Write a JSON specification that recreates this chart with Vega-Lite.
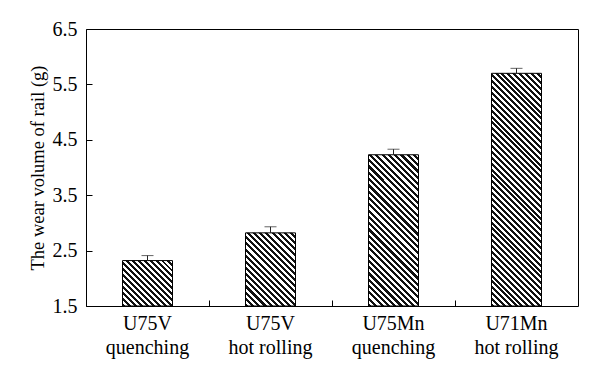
{
  "$schema": "https://vega.github.io/schema/vega-lite/v6.json",
  "width": 492,
  "height": 277,
  "autosize": "none",
  "padding": {"left": 86, "top": 29, "right": 22, "bottom": 78},
  "background": "#ffffff",
  "config": {"view": {"stroke": "#000000", "strokeWidth": 1}, "font": "Liberation Serif"},
  "data": {"values": [
    {"cat": "U75V quenching", "wear": 2.32, "hi": 2.41},
    {"cat": "U75V hot rolling", "wear": 2.82, "hi": 2.93},
    {"cat": "U75Mn quenching", "wear": 4.23, "hi": 4.33},
    {"cat": "U71Mn hot rolling", "wear": 5.70, "hi": 5.79}
  ]},
  "resolve": {"axis": {"x": "independent"}},
  "layer": [
    {
      "mark": {"type": "bar", "width": 50, "stroke": "#000000", "strokeWidth": 1},
      "encoding": {
        "x": {"field": "cat", "type": "nominal", "sort": null, "scale": {"paddingInner": 0, "paddingOuter": 0},
              "axis": {"orient": "bottom", "bandPosition": 0, "labels": false, "tickSize": -6, "tickColor": "#000000", "domain": false, "title": null}},
        "y": {"field": "wear", "type": "quantitative", "scale": {"domain": [1.5, 6.5], "zero": false, "nice": false},
              "axis": {"values": [1.5, 2.5, 3.5, 4.5, 5.5, 6.5], "format": ".1f", "tickSize": -6, "tickColor": "#000000", "domain": false, "grid": false,
                       "labelFontSize": 20, "labelColor": "#000000", "labelPadding": 15, "title": "The wear volume of rail (g)",
                       "titleFontSize": 18.5, "titleFontWeight": "normal", "titleColor": "#000000", "titlePadding": 5}},
        "y2": {"datum": 1.5},
        "fill": {
          "condition": [
            {"test": "datum.cat === 'U75V quenching'", "value": {"gradient": "linear", "x1": 0, "y1": 1, "x2": 1.0455, "y2": 0.05, "stops": [
              {"offset":0,"color":"#111"},
              {"offset":0.03125,"color":"#111"},{"offset":0.03125,"color":"#fff"},
              {"offset":0.0625,"color":"#fff"},{"offset":0.0625,"color":"#111"},
              {"offset":0.09375,"color":"#111"},{"offset":0.09375,"color":"#fff"},
              {"offset":0.125,"color":"#fff"},{"offset":0.125,"color":"#111"},
              {"offset":0.15625,"color":"#111"},{"offset":0.15625,"color":"#fff"},
              {"offset":0.1875,"color":"#fff"},{"offset":0.1875,"color":"#111"},
              {"offset":0.21875,"color":"#111"},{"offset":0.21875,"color":"#fff"},
              {"offset":0.25,"color":"#fff"},{"offset":0.25,"color":"#111"},
              {"offset":0.28125,"color":"#111"},{"offset":0.28125,"color":"#fff"},
              {"offset":0.3125,"color":"#fff"},{"offset":0.3125,"color":"#111"},
              {"offset":0.34375,"color":"#111"},{"offset":0.34375,"color":"#fff"},
              {"offset":0.375,"color":"#fff"},{"offset":0.375,"color":"#111"},
              {"offset":0.40625,"color":"#111"},{"offset":0.40625,"color":"#fff"},
              {"offset":0.4375,"color":"#fff"},{"offset":0.4375,"color":"#111"},
              {"offset":0.46875,"color":"#111"},{"offset":0.46875,"color":"#fff"},
              {"offset":0.5,"color":"#fff"},{"offset":0.5,"color":"#111"},
              {"offset":0.53125,"color":"#111"},{"offset":0.53125,"color":"#fff"},
              {"offset":0.5625,"color":"#fff"},{"offset":0.5625,"color":"#111"},
              {"offset":0.59375,"color":"#111"},{"offset":0.59375,"color":"#fff"},
              {"offset":0.625,"color":"#fff"},{"offset":0.625,"color":"#111"},
              {"offset":0.65625,"color":"#111"},{"offset":0.65625,"color":"#fff"},
              {"offset":0.6875,"color":"#fff"},{"offset":0.6875,"color":"#111"},
              {"offset":0.71875,"color":"#111"},{"offset":0.71875,"color":"#fff"},
              {"offset":0.75,"color":"#fff"},{"offset":0.75,"color":"#111"},
              {"offset":0.78125,"color":"#111"},{"offset":0.78125,"color":"#fff"},
              {"offset":0.8125,"color":"#fff"},{"offset":0.8125,"color":"#111"},
              {"offset":0.84375,"color":"#111"},{"offset":0.84375,"color":"#fff"},
              {"offset":0.875,"color":"#fff"},{"offset":0.875,"color":"#111"},
              {"offset":0.90625,"color":"#111"},{"offset":0.90625,"color":"#fff"},
              {"offset":0.9375,"color":"#fff"},{"offset":0.9375,"color":"#111"},
              {"offset":0.96875,"color":"#111"},{"offset":0.96875,"color":"#fff"},
              {"offset":1,"color":"#fff"}
            ]}},
            {"test": "datum.cat === 'U75V hot rolling'", "value": {"gradient": "linear", "x1": 0, "y1": 1, "x2": 0.7845, "y2": -0.1474, "stops": [
              {"offset":0,"color":"#111"},
              {"offset":0.025,"color":"#111"},{"offset":0.025,"color":"#fff"},
              {"offset":0.05,"color":"#fff"},{"offset":0.05,"color":"#111"},
              {"offset":0.075,"color":"#111"},{"offset":0.075,"color":"#fff"},
              {"offset":0.1,"color":"#fff"},{"offset":0.1,"color":"#111"},
              {"offset":0.125,"color":"#111"},{"offset":0.125,"color":"#fff"},
              {"offset":0.15,"color":"#fff"},{"offset":0.15,"color":"#111"},
              {"offset":0.175,"color":"#111"},{"offset":0.175,"color":"#fff"},
              {"offset":0.2,"color":"#fff"},{"offset":0.2,"color":"#111"},
              {"offset":0.225,"color":"#111"},{"offset":0.225,"color":"#fff"},
              {"offset":0.25,"color":"#fff"},{"offset":0.25,"color":"#111"},
              {"offset":0.275,"color":"#111"},{"offset":0.275,"color":"#fff"},
              {"offset":0.3,"color":"#fff"},{"offset":0.3,"color":"#111"},
              {"offset":0.325,"color":"#111"},{"offset":0.325,"color":"#fff"},
              {"offset":0.35,"color":"#fff"},{"offset":0.35,"color":"#111"},
              {"offset":0.375,"color":"#111"},{"offset":0.375,"color":"#fff"},
              {"offset":0.4,"color":"#fff"},{"offset":0.4,"color":"#111"},
              {"offset":0.425,"color":"#111"},{"offset":0.425,"color":"#fff"},
              {"offset":0.45,"color":"#fff"},{"offset":0.45,"color":"#111"},
              {"offset":0.475,"color":"#111"},{"offset":0.475,"color":"#fff"},
              {"offset":0.5,"color":"#fff"},{"offset":0.5,"color":"#111"},
              {"offset":0.525,"color":"#111"},{"offset":0.525,"color":"#fff"},
              {"offset":0.55,"color":"#fff"},{"offset":0.55,"color":"#111"},
              {"offset":0.575,"color":"#111"},{"offset":0.575,"color":"#fff"},
              {"offset":0.6,"color":"#fff"},{"offset":0.6,"color":"#111"},
              {"offset":0.625,"color":"#111"},{"offset":0.625,"color":"#fff"},
              {"offset":0.65,"color":"#fff"},{"offset":0.65,"color":"#111"},
              {"offset":0.675,"color":"#111"},{"offset":0.675,"color":"#fff"},
              {"offset":0.7,"color":"#fff"},{"offset":0.7,"color":"#111"},
              {"offset":0.725,"color":"#111"},{"offset":0.725,"color":"#fff"},
              {"offset":0.75,"color":"#fff"},{"offset":0.75,"color":"#111"},
              {"offset":0.775,"color":"#111"},{"offset":0.775,"color":"#fff"},
              {"offset":0.8,"color":"#fff"},{"offset":0.8,"color":"#111"},
              {"offset":0.825,"color":"#111"},{"offset":0.825,"color":"#fff"},
              {"offset":0.85,"color":"#fff"},{"offset":0.85,"color":"#111"},
              {"offset":0.875,"color":"#111"},{"offset":0.875,"color":"#fff"},
              {"offset":0.9,"color":"#fff"},{"offset":0.9,"color":"#111"},
              {"offset":0.925,"color":"#111"},{"offset":0.925,"color":"#fff"},
              {"offset":0.95,"color":"#fff"},{"offset":0.95,"color":"#111"},
              {"offset":0.975,"color":"#111"},{"offset":0.975,"color":"#fff"},
              {"offset":1,"color":"#fff"}
            ]}},
            {"test": "datum.cat === 'U75Mn quenching'", "value": {"gradient": "linear", "x1": 0, "y1": 1, "x2": 0.3966, "y2": -0.1995, "stops": [
              {"offset":0,"color":"#111"},
              {"offset":0.015625,"color":"#111"},{"offset":0.015625,"color":"#fff"},
              {"offset":0.03125,"color":"#fff"},{"offset":0.03125,"color":"#111"},
              {"offset":0.046875,"color":"#111"},{"offset":0.046875,"color":"#fff"},
              {"offset":0.0625,"color":"#fff"},{"offset":0.0625,"color":"#111"},
              {"offset":0.078125,"color":"#111"},{"offset":0.078125,"color":"#fff"},
              {"offset":0.09375,"color":"#fff"},{"offset":0.09375,"color":"#111"},
              {"offset":0.109375,"color":"#111"},{"offset":0.109375,"color":"#fff"},
              {"offset":0.125,"color":"#fff"},{"offset":0.125,"color":"#111"},
              {"offset":0.140625,"color":"#111"},{"offset":0.140625,"color":"#fff"},
              {"offset":0.15625,"color":"#fff"},{"offset":0.15625,"color":"#111"},
              {"offset":0.171875,"color":"#111"},{"offset":0.171875,"color":"#fff"},
              {"offset":0.1875,"color":"#fff"},{"offset":0.1875,"color":"#111"},
              {"offset":0.203125,"color":"#111"},{"offset":0.203125,"color":"#fff"},
              {"offset":0.21875,"color":"#fff"},{"offset":0.21875,"color":"#111"},
              {"offset":0.234375,"color":"#111"},{"offset":0.234375,"color":"#fff"},
              {"offset":0.25,"color":"#fff"},{"offset":0.25,"color":"#111"},
              {"offset":0.265625,"color":"#111"},{"offset":0.265625,"color":"#fff"},
              {"offset":0.28125,"color":"#fff"},{"offset":0.28125,"color":"#111"},
              {"offset":0.296875,"color":"#111"},{"offset":0.296875,"color":"#fff"},
              {"offset":0.3125,"color":"#fff"},{"offset":0.3125,"color":"#111"},
              {"offset":0.328125,"color":"#111"},{"offset":0.328125,"color":"#fff"},
              {"offset":0.34375,"color":"#fff"},{"offset":0.34375,"color":"#111"},
              {"offset":0.359375,"color":"#111"},{"offset":0.359375,"color":"#fff"},
              {"offset":0.375,"color":"#fff"},{"offset":0.375,"color":"#111"},
              {"offset":0.390625,"color":"#111"},{"offset":0.390625,"color":"#fff"},
              {"offset":0.40625,"color":"#fff"},{"offset":0.40625,"color":"#111"},
              {"offset":0.421875,"color":"#111"},{"offset":0.421875,"color":"#fff"},
              {"offset":0.4375,"color":"#fff"},{"offset":0.4375,"color":"#111"},
              {"offset":0.453125,"color":"#111"},{"offset":0.453125,"color":"#fff"},
              {"offset":0.46875,"color":"#fff"},{"offset":0.46875,"color":"#111"},
              {"offset":0.484375,"color":"#111"},{"offset":0.484375,"color":"#fff"},
              {"offset":0.5,"color":"#fff"},{"offset":0.5,"color":"#111"},
              {"offset":0.515625,"color":"#111"},{"offset":0.515625,"color":"#fff"},
              {"offset":0.53125,"color":"#fff"},{"offset":0.53125,"color":"#111"},
              {"offset":0.546875,"color":"#111"},{"offset":0.546875,"color":"#fff"},
              {"offset":0.5625,"color":"#fff"},{"offset":0.5625,"color":"#111"},
              {"offset":0.578125,"color":"#111"},{"offset":0.578125,"color":"#fff"},
              {"offset":0.59375,"color":"#fff"},{"offset":0.59375,"color":"#111"},
              {"offset":0.609375,"color":"#111"},{"offset":0.609375,"color":"#fff"},
              {"offset":0.625,"color":"#fff"},{"offset":0.625,"color":"#111"},
              {"offset":0.640625,"color":"#111"},{"offset":0.640625,"color":"#fff"},
              {"offset":0.65625,"color":"#fff"},{"offset":0.65625,"color":"#111"},
              {"offset":0.671875,"color":"#111"},{"offset":0.671875,"color":"#fff"},
              {"offset":0.6875,"color":"#fff"},{"offset":0.6875,"color":"#111"},
              {"offset":0.703125,"color":"#111"},{"offset":0.703125,"color":"#fff"},
              {"offset":0.71875,"color":"#fff"},{"offset":0.71875,"color":"#111"},
              {"offset":0.734375,"color":"#111"},{"offset":0.734375,"color":"#fff"},
              {"offset":0.75,"color":"#fff"},{"offset":0.75,"color":"#111"},
              {"offset":0.765625,"color":"#111"},{"offset":0.765625,"color":"#fff"},
              {"offset":0.78125,"color":"#fff"},{"offset":0.78125,"color":"#111"},
              {"offset":0.796875,"color":"#111"},{"offset":0.796875,"color":"#fff"},
              {"offset":0.8125,"color":"#fff"},{"offset":0.8125,"color":"#111"},
              {"offset":0.828125,"color":"#111"},{"offset":0.828125,"color":"#fff"},
              {"offset":0.84375,"color":"#fff"},{"offset":0.84375,"color":"#111"},
              {"offset":0.859375,"color":"#111"},{"offset":0.859375,"color":"#fff"},
              {"offset":0.875,"color":"#fff"},{"offset":0.875,"color":"#111"},
              {"offset":0.890625,"color":"#111"},{"offset":0.890625,"color":"#fff"},
              {"offset":0.90625,"color":"#fff"},{"offset":0.90625,"color":"#111"},
              {"offset":0.921875,"color":"#111"},{"offset":0.921875,"color":"#fff"},
              {"offset":0.9375,"color":"#fff"},{"offset":0.9375,"color":"#111"},
              {"offset":0.953125,"color":"#111"},{"offset":0.953125,"color":"#fff"},
              {"offset":0.96875,"color":"#fff"},{"offset":0.96875,"color":"#111"},
              {"offset":0.984375,"color":"#111"},{"offset":0.984375,"color":"#fff"},
              {"offset":1,"color":"#fff"}
            ]}}
          ],
          "value": {"gradient": "linear", "x1": 0, "y1": 1, "x2": 0.2495, "y2": -0.1613, "stops": [
            {"offset":0,"color":"#111"},
            {"offset":0.01042,"color":"#111"},{"offset":0.01042,"color":"#fff"},
            {"offset":0.02083,"color":"#fff"},{"offset":0.02083,"color":"#111"},
            {"offset":0.03125,"color":"#111"},{"offset":0.03125,"color":"#fff"},
            {"offset":0.04167,"color":"#fff"},{"offset":0.04167,"color":"#111"},
            {"offset":0.05208,"color":"#111"},{"offset":0.05208,"color":"#fff"},
            {"offset":0.0625,"color":"#fff"},{"offset":0.0625,"color":"#111"},
            {"offset":0.07292,"color":"#111"},{"offset":0.07292,"color":"#fff"},
            {"offset":0.08333,"color":"#fff"},{"offset":0.08333,"color":"#111"},
            {"offset":0.09375,"color":"#111"},{"offset":0.09375,"color":"#fff"},
            {"offset":0.10417,"color":"#fff"},{"offset":0.10417,"color":"#111"},
            {"offset":0.11458,"color":"#111"},{"offset":0.11458,"color":"#fff"},
            {"offset":0.125,"color":"#fff"},{"offset":0.125,"color":"#111"},
            {"offset":0.13542,"color":"#111"},{"offset":0.13542,"color":"#fff"},
            {"offset":0.14583,"color":"#fff"},{"offset":0.14583,"color":"#111"},
            {"offset":0.15625,"color":"#111"},{"offset":0.15625,"color":"#fff"},
            {"offset":0.16667,"color":"#fff"},{"offset":0.16667,"color":"#111"},
            {"offset":0.17708,"color":"#111"},{"offset":0.17708,"color":"#fff"},
            {"offset":0.1875,"color":"#fff"},{"offset":0.1875,"color":"#111"},
            {"offset":0.19792,"color":"#111"},{"offset":0.19792,"color":"#fff"},
            {"offset":0.20833,"color":"#fff"},{"offset":0.20833,"color":"#111"},
            {"offset":0.21875,"color":"#111"},{"offset":0.21875,"color":"#fff"},
            {"offset":0.22917,"color":"#fff"},{"offset":0.22917,"color":"#111"},
            {"offset":0.23958,"color":"#111"},{"offset":0.23958,"color":"#fff"},
            {"offset":0.25,"color":"#fff"},{"offset":0.25,"color":"#111"},
            {"offset":0.26042,"color":"#111"},{"offset":0.26042,"color":"#fff"},
            {"offset":0.27083,"color":"#fff"},{"offset":0.27083,"color":"#111"},
            {"offset":0.28125,"color":"#111"},{"offset":0.28125,"color":"#fff"},
            {"offset":0.29167,"color":"#fff"},{"offset":0.29167,"color":"#111"},
            {"offset":0.30208,"color":"#111"},{"offset":0.30208,"color":"#fff"},
            {"offset":0.3125,"color":"#fff"},{"offset":0.3125,"color":"#111"},
            {"offset":0.32292,"color":"#111"},{"offset":0.32292,"color":"#fff"},
            {"offset":0.33333,"color":"#fff"},{"offset":0.33333,"color":"#111"},
            {"offset":0.34375,"color":"#111"},{"offset":0.34375,"color":"#fff"},
            {"offset":0.35417,"color":"#fff"},{"offset":0.35417,"color":"#111"},
            {"offset":0.36458,"color":"#111"},{"offset":0.36458,"color":"#fff"},
            {"offset":0.375,"color":"#fff"},{"offset":0.375,"color":"#111"},
            {"offset":0.38542,"color":"#111"},{"offset":0.38542,"color":"#fff"},
            {"offset":0.39583,"color":"#fff"},{"offset":0.39583,"color":"#111"},
            {"offset":0.40625,"color":"#111"},{"offset":0.40625,"color":"#fff"},
            {"offset":0.41667,"color":"#fff"},{"offset":0.41667,"color":"#111"},
            {"offset":0.42708,"color":"#111"},{"offset":0.42708,"color":"#fff"},
            {"offset":0.4375,"color":"#fff"},{"offset":0.4375,"color":"#111"},
            {"offset":0.44792,"color":"#111"},{"offset":0.44792,"color":"#fff"},
            {"offset":0.45833,"color":"#fff"},{"offset":0.45833,"color":"#111"},
            {"offset":0.46875,"color":"#111"},{"offset":0.46875,"color":"#fff"},
            {"offset":0.47917,"color":"#fff"},{"offset":0.47917,"color":"#111"},
            {"offset":0.48958,"color":"#111"},{"offset":0.48958,"color":"#fff"},
            {"offset":0.5,"color":"#fff"},{"offset":0.5,"color":"#111"},
            {"offset":0.51042,"color":"#111"},{"offset":0.51042,"color":"#fff"},
            {"offset":0.52083,"color":"#fff"},{"offset":0.52083,"color":"#111"},
            {"offset":0.53125,"color":"#111"},{"offset":0.53125,"color":"#fff"},
            {"offset":0.54167,"color":"#fff"},{"offset":0.54167,"color":"#111"},
            {"offset":0.55208,"color":"#111"},{"offset":0.55208,"color":"#fff"},
            {"offset":0.5625,"color":"#fff"},{"offset":0.5625,"color":"#111"},
            {"offset":0.57292,"color":"#111"},{"offset":0.57292,"color":"#fff"},
            {"offset":0.58333,"color":"#fff"},{"offset":0.58333,"color":"#111"},
            {"offset":0.59375,"color":"#111"},{"offset":0.59375,"color":"#fff"},
            {"offset":0.60417,"color":"#fff"},{"offset":0.60417,"color":"#111"},
            {"offset":0.61458,"color":"#111"},{"offset":0.61458,"color":"#fff"},
            {"offset":0.625,"color":"#fff"},{"offset":0.625,"color":"#111"},
            {"offset":0.63542,"color":"#111"},{"offset":0.63542,"color":"#fff"},
            {"offset":0.64583,"color":"#fff"},{"offset":0.64583,"color":"#111"},
            {"offset":0.65625,"color":"#111"},{"offset":0.65625,"color":"#fff"},
            {"offset":0.66667,"color":"#fff"},{"offset":0.66667,"color":"#111"},
            {"offset":0.67708,"color":"#111"},{"offset":0.67708,"color":"#fff"},
            {"offset":0.6875,"color":"#fff"},{"offset":0.6875,"color":"#111"},
            {"offset":0.69792,"color":"#111"},{"offset":0.69792,"color":"#fff"},
            {"offset":0.70833,"color":"#fff"},{"offset":0.70833,"color":"#111"},
            {"offset":0.71875,"color":"#111"},{"offset":0.71875,"color":"#fff"},
            {"offset":0.72917,"color":"#fff"},{"offset":0.72917,"color":"#111"},
            {"offset":0.73958,"color":"#111"},{"offset":0.73958,"color":"#fff"},
            {"offset":0.75,"color":"#fff"},{"offset":0.75,"color":"#111"},
            {"offset":0.76042,"color":"#111"},{"offset":0.76042,"color":"#fff"},
            {"offset":0.77083,"color":"#fff"},{"offset":0.77083,"color":"#111"},
            {"offset":0.78125,"color":"#111"},{"offset":0.78125,"color":"#fff"},
            {"offset":0.79167,"color":"#fff"},{"offset":0.79167,"color":"#111"},
            {"offset":0.80208,"color":"#111"},{"offset":0.80208,"color":"#fff"},
            {"offset":0.8125,"color":"#fff"},{"offset":0.8125,"color":"#111"},
            {"offset":0.82292,"color":"#111"},{"offset":0.82292,"color":"#fff"},
            {"offset":0.83333,"color":"#fff"},{"offset":0.83333,"color":"#111"},
            {"offset":0.84375,"color":"#111"},{"offset":0.84375,"color":"#fff"},
            {"offset":0.85417,"color":"#fff"},{"offset":0.85417,"color":"#111"},
            {"offset":0.86458,"color":"#111"},{"offset":0.86458,"color":"#fff"},
            {"offset":0.875,"color":"#fff"},{"offset":0.875,"color":"#111"},
            {"offset":0.88542,"color":"#111"},{"offset":0.88542,"color":"#fff"},
            {"offset":0.89583,"color":"#fff"},{"offset":0.89583,"color":"#111"},
            {"offset":0.90625,"color":"#111"},{"offset":0.90625,"color":"#fff"},
            {"offset":0.91667,"color":"#fff"},{"offset":0.91667,"color":"#111"},
            {"offset":0.92708,"color":"#111"},{"offset":0.92708,"color":"#fff"},
            {"offset":0.9375,"color":"#fff"},{"offset":0.9375,"color":"#111"},
            {"offset":0.94792,"color":"#111"},{"offset":0.94792,"color":"#fff"},
            {"offset":0.95833,"color":"#fff"},{"offset":0.95833,"color":"#111"},
            {"offset":0.96875,"color":"#111"},{"offset":0.96875,"color":"#fff"},
            {"offset":0.97917,"color":"#fff"},{"offset":0.97917,"color":"#111"},
            {"offset":0.98958,"color":"#111"},{"offset":0.98958,"color":"#fff"},
            {"offset":1,"color":"#fff"}
          ]}
        }
      }
    },
    {
      "mark": {"type": "rule", "color": "#222222", "strokeWidth": 1},
      "encoding": {
        "x": {"field": "cat", "type": "nominal", "sort": null,
              "axis": {"orient": "bottom", "ticks": false, "domain": false, "title": null, "labelAngle": 0,
                       "labelFontSize": 20, "labelColor": "#000000", "labelPadding": 7, "labelLineHeight": 24,
                       "labelExpr": "[slice(datum.label, 0, indexof(datum.label, ' ')), slice(datum.label, indexof(datum.label, ' ') + 1)]"}},
        "y": {"field": "wear", "type": "quantitative"},
        "y2": {"field": "hi"}
      }
    },
    {
      "mark": {"type": "tick", "color": "#222222", "size": 12, "thickness": 1},
      "encoding": {
        "x": {"field": "cat", "type": "nominal", "sort": null, "axis": null},
        "y": {"field": "hi", "type": "quantitative"}
      }
    }
  ]
}
